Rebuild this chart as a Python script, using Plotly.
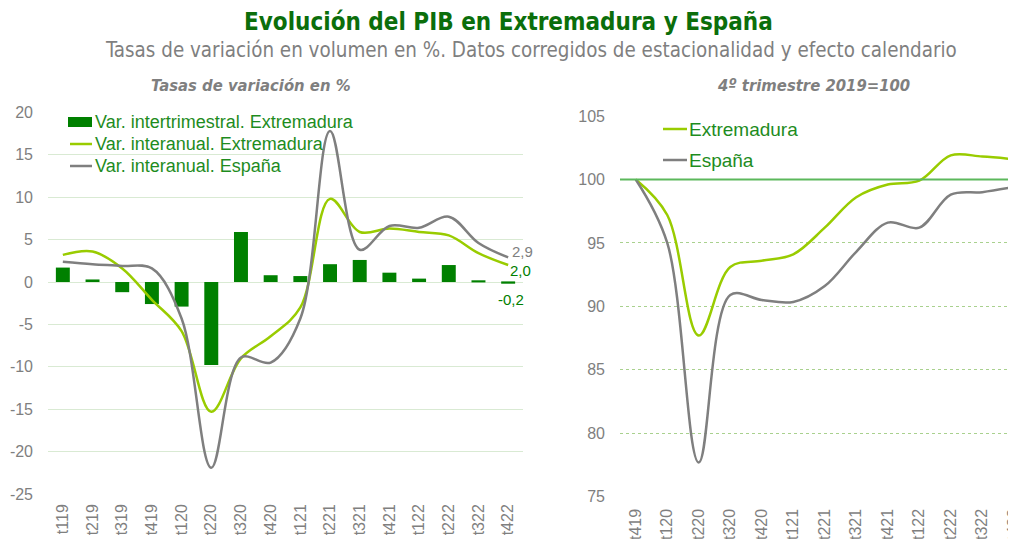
import plotly.graph_objects as go

# ---- Data ----
q_left = ["t119", "t219", "t319", "t419", "t120", "t220", "t320", "t420",
          "t121", "t221", "t321", "t421", "t122", "t222", "t322", "t422"]
intertrim_ext = [1.7, 0.3, -1.2, -2.6, -2.9, -9.8, 5.9, 0.8,
                 0.7, 2.1, 2.6, 1.1, 0.4, 2.0, 0.2, -0.2]
interanual_ext = [3.2, 3.6, 1.6, -2.1, -5.8, -15.3, -9.0, -6.4,
                  -3.0, 9.8, 5.9, 6.3, 5.9, 5.5, 3.4, 2.0]
interanual_esp = [2.4, 2.1, 1.9, 1.6, -4.3, -21.9, -8.9, -9.5,
                  -4.3, 17.8, 3.8, 6.6, 6.4, 7.7, 4.6, 2.9]

q_right = ["t419", "t120", "t220", "t320", "t420", "t121", "t221",
           "t321", "t421", "t122", "t222", "t322", "t422"]
indice_ext = [100.0, 97.2, 87.7, 93.1, 93.6, 94.1, 96.2, 98.6, 99.6, 99.9, 101.9, 101.8, 101.6]
indice_esp = [100.0, 95.0, 77.7, 90.9, 90.5, 90.35, 91.6, 94.3, 96.6, 96.2, 98.8, 99.0, 99.4]

left_ticks = [-25, -20, -15, -10, -5, 0, 5, 10, 15, 20]
right_ticks = [75, 80, 85, 90, 95, 100, 105]

names_left = ["Var. intertrimestral. Extremadura", "Var. interanual. Extremadura",
              "Var. interanual. España"]
names_right = ["Extremadura", "España"]

GREEN_BAR = "#008000"
LIGHT = "#99cc00"
GRAY = "#7f7f7f"
TXT_GREEN = "#1e8c1e"
FONT = "Liberation Sans, Arial, sans-serif"
NARROW = "Liberation Sans Narrow, DejaVu Sans Condensed, Arial Narrow, sans-serif"

W, H = 1016, 539
OFF = 8  # page body offset


def fx(p):
    return (p - OFF) / W


def fy(p):
    return 1 - (p - OFF) / H


fig = go.Figure()

fig.add_trace(go.Bar(x=q_left, y=intertrim_ext, name=names_left[0],
                     marker=dict(color=GREEN_BAR, line=dict(width=0)), width=0.47,
                     xaxis="x", yaxis="y"))
fig.add_trace(go.Scatter(x=q_left, y=interanual_ext, name=names_left[1],
                         mode="lines", line=dict(color=LIGHT, width=2.5, shape="spline"),
                         xaxis="x", yaxis="y"))
fig.add_trace(go.Scatter(x=q_left, y=interanual_esp, name=names_left[2],
                         mode="lines", line=dict(color=GRAY, width=2.5, shape="spline"),
                         xaxis="x", yaxis="y"))

fig.add_trace(go.Scatter(x=q_right, y=indice_ext, name=names_right[0],
                         mode="lines", line=dict(color=LIGHT, width=2.5, shape="spline"),
                         xaxis="x2", yaxis="y2"))
fig.add_trace(go.Scatter(x=q_right, y=indice_esp, name=names_right[1],
                         mode="lines", line=dict(color=GRAY, width=2.5, shape="spline"),
                         xaxis="x2", yaxis="y2"))


def fmt(v):
    return f"{v:.1f}".replace(".", ",")


annotations = [
    dict(text="<b>Evolución del PIB en Extremadura y España</b>", x=fx(508), y=fy(22),
         xref="paper", yref="paper", showarrow=False, xanchor="center", yanchor="middle",
         font=dict(family=NARROW, size=24, color="#0b6e0b")),
    dict(text="Tasas de variación en volumen en %. Datos corregidos de estacionalidad y efecto calendario",
         x=fx(531), y=fy(50), xref="paper", yref="paper", showarrow=False,
         xanchor="center", yanchor="middle", font=dict(family=NARROW, size=20.4, color="#7f7f7f")),
    dict(text="<b><i>Tasas de variación en %</i></b>", x=fx(251), y=fy(86),
         xref="paper", yref="paper", showarrow=False, xanchor="center", yanchor="middle",
         font=dict(family=NARROW, size=16.5, color="#7f7f7f")),
    dict(text="<b><i>4º trimestre 2019=100</i></b>", x=fx(813), y=fy(86),
         xref="paper", yref="paper", showarrow=False, xanchor="center", yanchor="middle",
         font=dict(family=NARROW, size=16.5, color="#7f7f7f")),
    dict(text=fmt(interanual_esp[-1]), x=q_left[-1], y=interanual_esp[-1], xref="x", yref="y",
         showarrow=False, xanchor="left", yanchor="middle", xshift=2, yshift=6,
         font=dict(family=FONT, size=15, color=GRAY)),
    dict(text=fmt(interanual_ext[-1]), x=q_left[-1], y=interanual_ext[-1], xref="x", yref="y",
         showarrow=False, xanchor="left", yanchor="middle", xshift=0, yshift=-5,
         font=dict(family=FONT, size=15, color=GREEN_BAR)),
    dict(text=fmt(intertrim_ext[-1]), x=q_left[-1], y=intertrim_ext[-1], xref="x", yref="y",
         showarrow=False, xanchor="center", yanchor="middle", xshift=3, yshift=-16,
         font=dict(family=FONT, size=15, color=GREEN_BAR)),
]

shapes = [dict(type="line", xref="x2 domain", yref="y2", x0=0, x1=1, y0=100, y1=100,
               line=dict(color="#5cb85c", width=2))]

# ---- custom legends ----
left_rows = [122, 144, 166]
shapes.append(dict(type="rect", xref="paper", yref="paper", x0=fx(68), x1=fx(92),
                   y0=fy(127), y1=fy(117), fillcolor=GREEN_BAR, line=dict(width=0)))
shapes.append(dict(type="line", xref="paper", yref="paper", x0=fx(70), x1=fx(92),
                   y0=fy(left_rows[1]), y1=fy(left_rows[1]), line=dict(color=LIGHT, width=2.5)))
shapes.append(dict(type="line", xref="paper", yref="paper", x0=fx(70), x1=fx(92),
                   y0=fy(left_rows[2]), y1=fy(left_rows[2]), line=dict(color=GRAY, width=2.5)))
for name, yy in zip(names_left, left_rows):
    annotations.append(dict(text=name, x=fx(93), y=fy(yy), xref="paper", yref="paper",
                            showarrow=False, xanchor="left", yanchor="middle",
                            font=dict(family=FONT, size=18, color=TXT_GREEN)))

right_rows = [129, 160]
for name, yy, col in zip(names_right, right_rows, [LIGHT, GRAY]):
    shapes.append(dict(type="line", xref="paper", yref="paper", x0=fx(663), x1=fx(687),
                       y0=fy(yy), y1=fy(yy), line=dict(color=col, width=2.5)))
    annotations.append(dict(text=name, x=fx(687), y=fy(yy), xref="paper", yref="paper",
                            showarrow=False, xanchor="left", yanchor="middle",
                            font=dict(family=FONT, size=19, color=TXT_GREEN)))

tick_font = dict(family=FONT, size=16, color="#7f7f7f")
xtick_font = dict(family=FONT, size=16, color="#7f7f7f")

fig.update_layout(
    width=W, height=H,
    margin=dict(l=0, r=0, t=0, b=0, autoexpand=False),
    paper_bgcolor="white", plot_bgcolor="white",
    showlegend=False,
    annotations=annotations,
    shapes=shapes,
    xaxis=dict(domain=[fx(48), fx(523)], range=[-0.5, 15.5], tickangle=-90,
               tickfont=xtick_font, showgrid=False, showline=False, ticks="", anchor="y",
               ticklabelstandoff=6, automargin=False),
    yaxis=dict(domain=[fy(494), fy(112.4)], range=[-25, 20],
               tickmode="array", tickvals=left_ticks, ticktext=[str(v) for v in left_ticks],
               tickfont=tick_font, showgrid=True, gridcolor="#d9ead3", gridwidth=1,
               zeroline=True, zerolinecolor="#d9ead3", zerolinewidth=1, showline=False,
               ticks="", anchor="x", ticklabelstandoff=14, automargin=False),
    xaxis2=dict(domain=[fx(620), 1.0], range=[-0.5, -0.5 + (W + OFF - 620) / 31.5], tickangle=-90,
                tickfont=xtick_font, showgrid=False, showline=False, ticks="", anchor="y2",
                ticklabelstandoff=8, automargin=False),
    yaxis2=dict(domain=[fy(496.7), fy(116)], range=[75, 105],
                tickmode="array", tickvals=right_ticks, ticktext=[str(v) for v in right_ticks],
                tickfont=tick_font, showgrid=True, gridcolor="#a9d18e", gridwidth=1,
                griddash="dot", zeroline=False, showline=False, ticks="", anchor="x2",
                ticklabelstandoff=14, automargin=False),
)

fig.write_html("out.html")
